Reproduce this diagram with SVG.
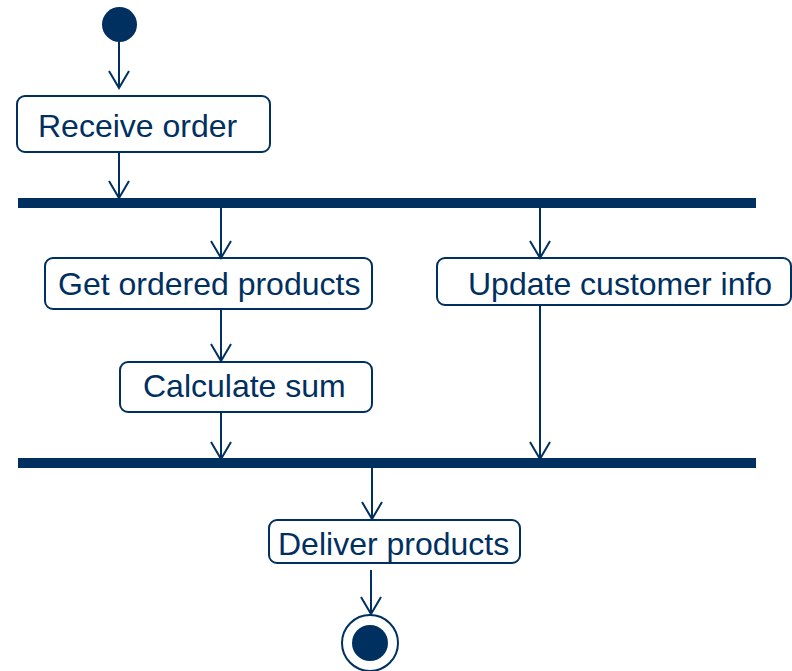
<svg xmlns="http://www.w3.org/2000/svg" width="792" height="671" viewBox="0 0 792 671">
<defs>
<style>
.node rect{fill:#fff;stroke:#00305F;stroke-width:2}
.node text{font-family:"Liberation Sans",Arial,sans-serif;font-size:32px;fill:#00305F}
.bar{fill:#00305F}
.conn line{stroke:#00305F;stroke-width:2}
.conn path{fill:none;stroke:#00305F;stroke-width:2}
</style>
<marker id="arr" viewBox="0 0 20 24" markerWidth="20" markerHeight="24" refX="18" refY="12" orient="auto" markerUnits="userSpaceOnUse">
<path d="M1,2 L18,12 L1,22" fill="none" stroke="#00305F" stroke-width="2"/>
</marker>
</defs>
<rect width="792" height="671" fill="#fff"/>
<g id="start"><circle cx="119.5" cy="24.5" r="17.5" fill="#00305F"/></g>
<g id="receive-order" class="node"><rect x="17" y="96" width="253" height="56" rx="8"/><text x="38" y="137">Receive order</text></g>
<g id="fork"><rect class="bar" x="18" y="198" width="738" height="10"/></g>
<g id="get-ordered-products" class="node"><rect x="45" y="258" width="327" height="51" rx="8"/><text x="58" y="295">Get ordered products</text></g>
<g id="update-customer-info" class="node"><rect x="437" y="258" width="354" height="47" rx="8"/><text x="468" y="295">Update customer info</text></g>
<g id="calculate-sum" class="node"><rect x="120" y="362" width="252" height="50" rx="8"/><text x="143" y="397">Calculate sum</text></g>
<g id="join"><rect class="bar" x="18" y="458" width="738" height="10"/></g>
<g id="deliver-products" class="node"><rect x="269" y="520" width="251" height="43" rx="8"/><text x="278" y="555">Deliver products</text></g>
<g id="end"><circle cx="370" cy="643" r="28" fill="#fff" stroke="#00305F" stroke-width="2"/><circle cx="370" cy="643" r="18" fill="#00305F"/></g>
<g id="connectors" class="conn">
<line x1="119" y1="42" x2="119" y2="88" marker-end="url(#arr)"/>
<line x1="119" y1="152" x2="119" y2="198" marker-end="url(#arr)"/>
<line x1="221" y1="208" x2="221" y2="258" marker-end="url(#arr)"/>
<line x1="540" y1="208" x2="540" y2="258" marker-end="url(#arr)"/>
<line x1="221" y1="309" x2="221" y2="361" marker-end="url(#arr)"/>
<line x1="221" y1="412" x2="221" y2="459" marker-end="url(#arr)"/>
<line x1="540" y1="305" x2="540" y2="459" marker-end="url(#arr)"/>
<line x1="372" y1="468" x2="372" y2="519" marker-end="url(#arr)"/>
<line x1="371" y1="570" x2="371" y2="614" marker-end="url(#arr)"/>
</g>
</svg>
